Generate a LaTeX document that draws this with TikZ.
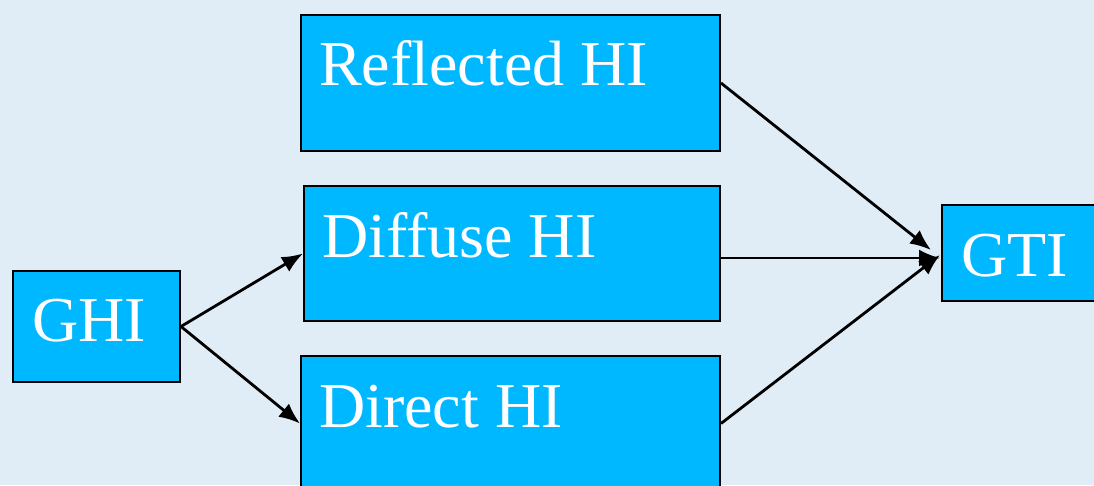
\documentclass[tikz,border=0pt]{standalone}
\usepackage{fontspec}
\setmainfont{Liberation Serif}
\usetikzlibrary{arrows.meta}
\definecolor{bgc}{RGB}{224,236,246}
\definecolor{boxc}{RGB}{0,184,255}
\tikzset{
  box/.style={draw=black, line width=2pt, fill=boxc, rectangle, inner sep=0pt, anchor=north west},
  lbl/.style={text=white, font=\fontsize{64}{70}\selectfont, anchor=base west, inner sep=0pt},
  conn/.style={line width=2.8pt, -{Latex[length=21pt,width=17pt]}}
}
\begin{document}
\begin{tikzpicture}[x=1pt,y=-1pt]
\useasboundingbox (0,0) rectangle (1094,485);
\clip (0,0) rectangle (1094,485);
\fill[bgc] (0,0) rectangle (1094,485);
\node[box, minimum width=167pt, minimum height=111pt] (ghi) at (12,270) {};
\node[lbl] (ghit) at (32,341) {GHI};
\node[box, minimum width=419pt, minimum height=136pt] (refl) at (300,14) {};
\node[lbl] (reflt) at (319,85) {Reflected HI};
\node[box, minimum width=416pt, minimum height=135pt] (diff) at (303,185) {};
\node[lbl] (difft) at (322,257) {Diffuse HI};
\node[box, minimum width=419pt, minimum height=135pt] (dir) at (300,355) {};
\node[lbl] (dirt) at (319,427) {Direct HI};
\node[box, minimum width=170pt, minimum height=96pt] (gti) at (941,204) {};
\node[lbl] (gtit) at (961,276) {GTI};
\coordinate (gin) at (940,255);
\coordinate (gin2) at (931,250);
\draw[conn] (ghi.east) -- (diff.west);
\draw[conn] (ghi.east) -- (dir.west);
\draw[conn] (refl.east) -- (gin2);
\draw[conn] (diff.east |- 0,258) -- (gin |- 0,258);
\draw[conn] (dir.east) -- (gin);
\end{tikzpicture}
\end{document}
